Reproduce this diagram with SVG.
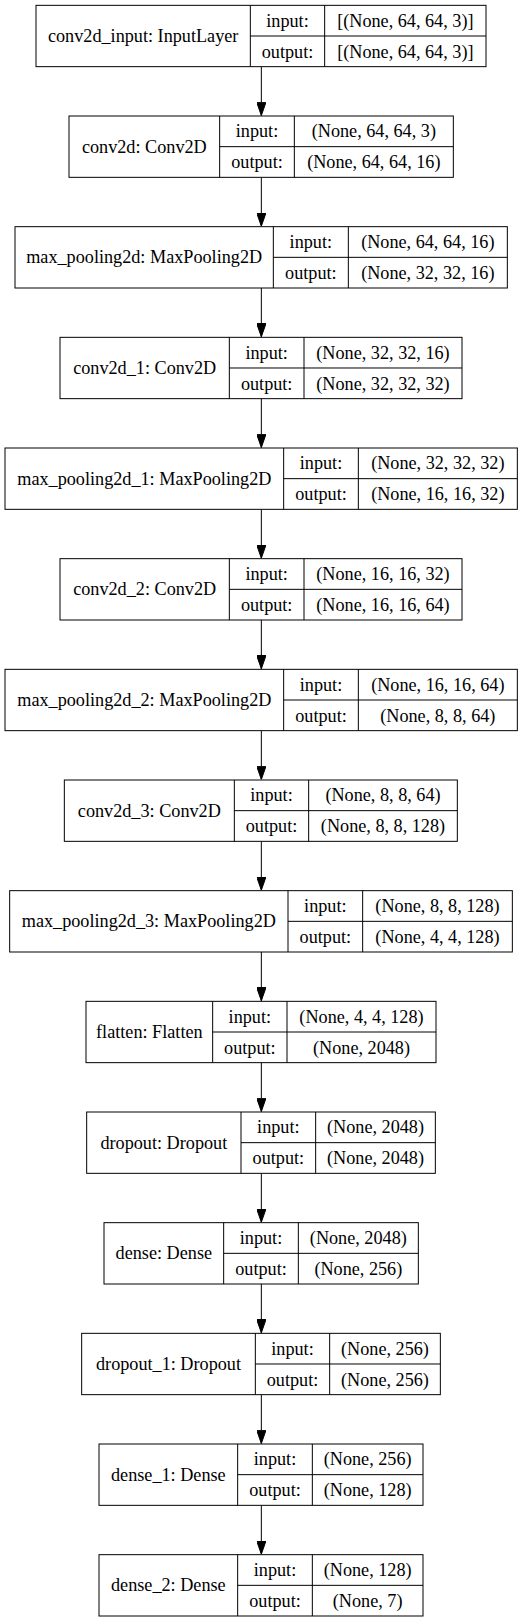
<svg xmlns="http://www.w3.org/2000/svg" width="523" height="1623" viewBox="0 0 523 1623">
<style>
  .box { fill: #ffffff; stroke: #000000; stroke-width: 1; }
  .sep { stroke: #000000; stroke-width: 1; fill: none; }
  text { font-family: "Liberation Serif", "Times New Roman", serif; font-size: 18.2px; fill: #000000; text-anchor: middle; }
  .edge { stroke: #000000; stroke-width: 1; fill: none; marker-end: url(#arrow); }
</style>
<defs>
  <marker id="arrow" viewBox="0 0 13.33 9.33" refX="13.33" refY="4.67" markerWidth="13.33" markerHeight="9.33" orient="auto" markerUnits="userSpaceOnUse">
    <path d="M0,0 L13.33,4.67 L0,9.33 Z" fill="#000000" stroke="#000000" stroke-width="1"/>
  </marker>
</defs>
<rect x="0" y="0" width="523" height="1623" fill="#ffffff"/>

<g id="edges">
  <path class="edge" d="M261.33,66.67 V115.5"/>
  <path class="edge" d="M261.33,177.33 V226.2"/>
  <path class="edge" d="M261.33,288 V336.8"/>
  <path class="edge" d="M261.33,398.67 V447.5"/>
  <path class="edge" d="M261.33,509.33 V558.2"/>
  <path class="edge" d="M261.33,620 V668.8"/>
  <path class="edge" d="M261.33,730.67 V779.5"/>
  <path class="edge" d="M261.33,841.33 V890.2"/>
  <path class="edge" d="M261.33,952 V1000.8"/>
  <path class="edge" d="M261.33,1062.67 V1111.5"/>
  <path class="edge" d="M261.33,1173.33 V1222.2"/>
  <path class="edge" d="M261.33,1284 V1332.8"/>
  <path class="edge" d="M261.33,1394.67 V1443.5"/>
  <path class="edge" d="M261.33,1505.33 V1554.2"/>
</g>

<g id="node-conv2d_input" transform="translate(0,5.33)">
  <rect class="box" x="36" y="0" width="450" height="61.33"/>
  <path class="sep" d="M250.33,0 V61.33 M324.67,0 V61.33 M250.33,30.67 H486"/>
  <text x="143.17" y="36.5">conv2d_input: InputLayer</text>
  <text x="287.5" y="21.3">input:</text>
  <text x="287.5" y="52.3">output:</text>
  <text x="405.33" y="21.3">[(None, 64, 64, 3)]</text>
  <text x="405.33" y="52.3">[(None, 64, 64, 3)]</text>
</g>

<g id="node-conv2d" transform="translate(0,116)">
  <rect class="box" x="69" y="0" width="384.33" height="61.33"/>
  <path class="sep" d="M219.67,0 V61.33 M294.33,0 V61.33 M219.67,30.67 H453.33"/>
  <text x="144.33" y="36.5">conv2d: Conv2D</text>
  <text x="257" y="21.3">input:</text>
  <text x="257" y="52.3">output:</text>
  <text x="373.83" y="21.3">(None, 64, 64, 3)</text>
  <text x="373.83" y="52.3">(None, 64, 64, 16)</text>
</g>

<g id="node-max_pooling2d" transform="translate(0,226.67)">
  <rect class="box" x="15" y="0" width="492.33" height="61.33"/>
  <path class="sep" d="M273.33,0 V61.33 M348.33,0 V61.33 M273.33,30.67 H507.33"/>
  <text x="144.17" y="36.5">max_pooling2d: MaxPooling2D</text>
  <text x="310.83" y="21.3">input:</text>
  <text x="310.83" y="52.3">output:</text>
  <text x="427.83" y="21.3">(None, 64, 64, 16)</text>
  <text x="427.83" y="52.3">(None, 32, 32, 16)</text>
</g>

<g id="node-conv2d_1" transform="translate(0,337.33)">
  <rect class="box" x="60" y="0" width="402" height="61.33"/>
  <path class="sep" d="M229.33,0 V61.33 M304,0 V61.33 M229.33,30.67 H462"/>
  <text x="144.67" y="36.5">conv2d_1: Conv2D</text>
  <text x="266.67" y="21.3">input:</text>
  <text x="266.67" y="52.3">output:</text>
  <text x="383" y="21.3">(None, 32, 32, 16)</text>
  <text x="383" y="52.3">(None, 32, 32, 32)</text>
</g>

<g id="node-max_pooling2d_1" transform="translate(0,448)">
  <rect class="box" x="5" y="0" width="512.33" height="61.33"/>
  <path class="sep" d="M283.67,0 V61.33 M358.33,0 V61.33 M283.67,30.67 H517.33"/>
  <text x="144.33" y="36.5">max_pooling2d_1: MaxPooling2D</text>
  <text x="321" y="21.3">input:</text>
  <text x="321" y="52.3">output:</text>
  <text x="437.83" y="21.3">(None, 32, 32, 32)</text>
  <text x="437.83" y="52.3">(None, 16, 16, 32)</text>
</g>

<g id="node-conv2d_2" transform="translate(0,558.67)">
  <rect class="box" x="60" y="0" width="402" height="61.33"/>
  <path class="sep" d="M229.33,0 V61.33 M304,0 V61.33 M229.33,30.67 H462"/>
  <text x="144.67" y="36.5">conv2d_2: Conv2D</text>
  <text x="266.67" y="21.3">input:</text>
  <text x="266.67" y="52.3">output:</text>
  <text x="383" y="21.3">(None, 16, 16, 32)</text>
  <text x="383" y="52.3">(None, 16, 16, 64)</text>
</g>

<g id="node-max_pooling2d_2" transform="translate(0,669.33)">
  <rect class="box" x="5" y="0" width="512.33" height="61.33"/>
  <path class="sep" d="M283.67,0 V61.33 M358.33,0 V61.33 M283.67,30.67 H517.33"/>
  <text x="144.33" y="36.5">max_pooling2d_2: MaxPooling2D</text>
  <text x="321" y="21.3">input:</text>
  <text x="321" y="52.3">output:</text>
  <text x="437.83" y="21.3">(None, 16, 16, 64)</text>
  <text x="437.83" y="52.3">(None, 8, 8, 64)</text>
</g>

<g id="node-conv2d_3" transform="translate(0,780)">
  <rect class="box" x="64.33" y="0" width="393" height="61.33"/>
  <path class="sep" d="M234.33,0 V61.33 M308.67,0 V61.33 M234.33,30.67 H457.33"/>
  <text x="149.33" y="36.5">conv2d_3: Conv2D</text>
  <text x="271.5" y="21.3">input:</text>
  <text x="271.5" y="52.3">output:</text>
  <text x="383" y="21.3">(None, 8, 8, 64)</text>
  <text x="383" y="52.3">(None, 8, 8, 128)</text>
</g>

<g id="node-max_pooling2d_3" transform="translate(0,890.67)">
  <rect class="box" x="9.67" y="0" width="502.67" height="61.33"/>
  <path class="sep" d="M288,0 V61.33 M362.67,0 V61.33 M288,30.67 H512.33"/>
  <text x="148.83" y="36.5">max_pooling2d_3: MaxPooling2D</text>
  <text x="325.33" y="21.3">input:</text>
  <text x="325.33" y="52.3">output:</text>
  <text x="437.5" y="21.3">(None, 8, 8, 128)</text>
  <text x="437.5" y="52.3">(None, 4, 4, 128)</text>
</g>

<g id="node-flatten" transform="translate(0,1001.33)">
  <rect class="box" x="86" y="0" width="350" height="61.33"/>
  <path class="sep" d="M212.67,0 V61.33 M287,0 V61.33 M212.67,30.67 H436"/>
  <text x="149.33" y="36.5">flatten: Flatten</text>
  <text x="249.83" y="21.3">input:</text>
  <text x="249.83" y="52.3">output:</text>
  <text x="361.5" y="21.3">(None, 4, 4, 128)</text>
  <text x="361.5" y="52.3">(None, 2048)</text>
</g>

<g id="node-dropout" transform="translate(0,1112)">
  <rect class="box" x="86.67" y="0" width="348.67" height="61.33"/>
  <path class="sep" d="M241,0 V61.33 M315.67,0 V61.33 M241,30.67 H435.33"/>
  <text x="163.83" y="36.5">dropout: Dropout</text>
  <text x="278.33" y="21.3">input:</text>
  <text x="278.33" y="52.3">output:</text>
  <text x="375.5" y="21.3">(None, 2048)</text>
  <text x="375.5" y="52.3">(None, 2048)</text>
</g>

<g id="node-dense" transform="translate(0,1222.67)">
  <rect class="box" x="104" y="0" width="314.33" height="61.33"/>
  <path class="sep" d="M223.67,0 V61.33 M298.33,0 V61.33 M223.67,30.67 H418.33"/>
  <text x="163.83" y="36.5">dense: Dense</text>
  <text x="261" y="21.3">input:</text>
  <text x="261" y="52.3">output:</text>
  <text x="358.33" y="21.3">(None, 2048)</text>
  <text x="358.33" y="52.3">(None, 256)</text>
</g>

<g id="node-dropout_1" transform="translate(0,1333.33)">
  <rect class="box" x="81.67" y="0" width="358.67" height="61.33"/>
  <path class="sep" d="M255.33,0 V61.33 M329.67,0 V61.33 M255.33,30.67 H440.33"/>
  <text x="168.5" y="36.5">dropout_1: Dropout</text>
  <text x="292.5" y="21.3">input:</text>
  <text x="292.5" y="52.3">output:</text>
  <text x="385" y="21.3">(None, 256)</text>
  <text x="385" y="52.3">(None, 256)</text>
</g>

<g id="node-dense_1" transform="translate(0,1444)">
  <rect class="box" x="99" y="0" width="324" height="61.33"/>
  <path class="sep" d="M237.67,0 V61.33 M312.33,0 V61.33 M237.67,30.67 H423"/>
  <text x="168.33" y="36.5">dense_1: Dense</text>
  <text x="275" y="21.3">input:</text>
  <text x="275" y="52.3">output:</text>
  <text x="367.67" y="21.3">(None, 256)</text>
  <text x="367.67" y="52.3">(None, 128)</text>
</g>

<g id="node-dense_2" transform="translate(0,1554.67)">
  <rect class="box" x="99" y="0" width="324" height="61.33"/>
  <path class="sep" d="M237.67,0 V61.33 M312.33,0 V61.33 M237.67,30.67 H423"/>
  <text x="168.33" y="36.5">dense_2: Dense</text>
  <text x="275" y="21.3">input:</text>
  <text x="275" y="52.3">output:</text>
  <text x="367.67" y="21.3">(None, 128)</text>
  <text x="367.67" y="52.3">(None, 7)</text>
</g>
</svg>
